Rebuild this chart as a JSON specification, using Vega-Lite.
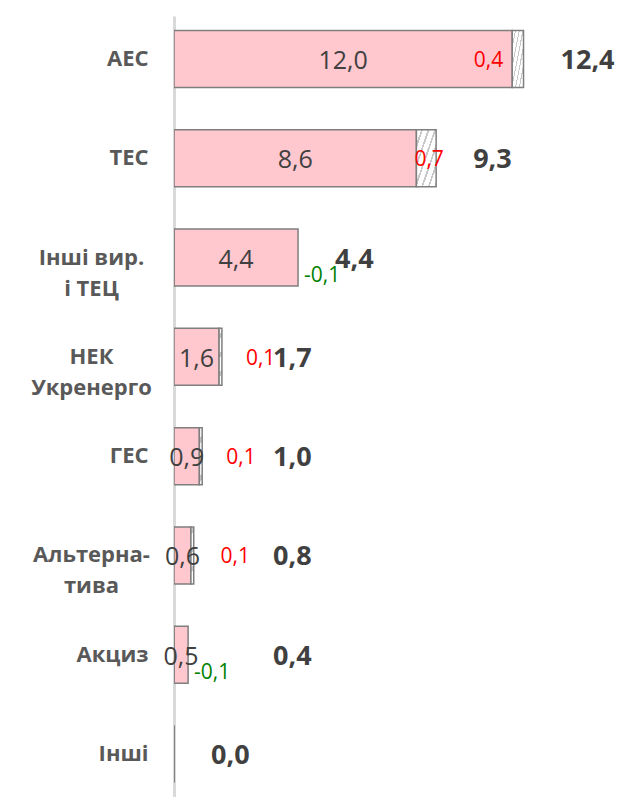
{
  "$schema": "https://vega.github.io/schema/vega-lite/v6.json",
  "width": 451,
  "height": 781,
  "autosize": {"type": "none"},
  "padding": {"left": 174, "top": 16, "right": 10, "bottom": 0},
  "background": "white",
  "config": {
    "view": {"stroke": null},
    "font": "Open Sans",
    "locale": {"number": {"decimal": ",", "thousands": " ", "grouping": [3], "currency": ["", ""], "minus": "-"}}
  },
  "data": {
    "values": [
      {"category": "АЕС", "base": 12.0, "change": 0.4, "total": 12.4},
      {"category": "ТЕС", "base": 8.6, "change": 0.7, "total": 9.3},
      {"category": "Інші вир.|і ТЕЦ", "base": 4.4, "change": -0.1, "total": 4.4},
      {"category": "НЕК|Укренерго", "base": 1.6, "change": 0.1, "total": 1.7},
      {"category": "ГЕС", "base": 0.9, "change": 0.1, "total": 1.0},
      {"category": "Альтерна-|тива", "base": 0.6, "change": 0.1, "total": 0.8},
      {"category": "Акциз", "base": 0.5, "change": -0.1, "total": 0.4},
      {"category": "Інші", "base": 0.0, "change": 0.0, "total": 0.0}
    ]
  },
  "encoding": {
    "y": {
      "field": "category",
      "type": "nominal",
      "sort": null,
      "scale": {"paddingInner": 0.426, "paddingOuter": 0.146},
      "axis": {
        "title": null,
        "ticks": false,
        "domainColor": "#D9D9D9",
        "domainWidth": 3,
        "labelExpr": "split(datum.label, '|')",
        "labelFont": "Open Sans",
        "labelFontWeight": "bold",
        "labelFontSize": 22,
        "labelColor": "#595959",
        "labelLineHeight": 31,
        "labelBaseline": "middle",
        "labelAlign": {"condition": {"test": "indexof(datum.value, '|') >= 0", "value": "center"}, "value": "right"},
        "labelPadding": {"condition": {"test": "indexof(datum.value, '|') >= 0", "value": 83}, "value": 26}
      }
    }
  },
  "layer": [
    {
      "transform": [{"fold": ["base", "change"], "as": ["key", "val"]}],
      "mark": {"type": "bar", "clip": true, "stroke": "#7F7F7F", "strokeWidth": 1.5},
      "encoding": {
        "x": {"field": "val", "type": "quantitative", "stack": "zero", "scale": {"domain": [0, 16]}, "axis": null},
        "detail": {"field": "key"},
        "order": {"field": "key"},
        "fill": {
          "condition": {
            "test": "datum.key === 'change'",
            "value": {
              "gradient": "linear", "x1": 0, "y1": 0, "x2": 1, "y2": 1,
              "stops": [
                {"offset": 0, "color": "#FFFFFF"}, {"offset": 0.12, "color": "#FFFFFF"}, {"offset": 0.12, "color": "#C8C8C8"}, {"offset": 0.1667, "color": "#C8C8C8"},
                {"offset": 0.1667, "color": "#FFFFFF"}, {"offset": 0.2867, "color": "#FFFFFF"}, {"offset": 0.2867, "color": "#C8C8C8"}, {"offset": 0.3333, "color": "#C8C8C8"},
                {"offset": 0.3333, "color": "#FFFFFF"}, {"offset": 0.4533, "color": "#FFFFFF"}, {"offset": 0.4533, "color": "#C8C8C8"}, {"offset": 0.5, "color": "#C8C8C8"},
                {"offset": 0.5, "color": "#FFFFFF"}, {"offset": 0.62, "color": "#FFFFFF"}, {"offset": 0.62, "color": "#C8C8C8"}, {"offset": 0.6667, "color": "#C8C8C8"},
                {"offset": 0.6667, "color": "#FFFFFF"}, {"offset": 0.7867, "color": "#FFFFFF"}, {"offset": 0.7867, "color": "#C8C8C8"}, {"offset": 0.8333, "color": "#C8C8C8"},
                {"offset": 0.8333, "color": "#FFFFFF"}, {"offset": 0.9533, "color": "#FFFFFF"}, {"offset": 0.9533, "color": "#C8C8C8"}, {"offset": 1, "color": "#C8C8C8"}
              ]
            }
          },
          "value": "#FFC7CE"
        }
      }
    },
    {
      "transform": [{"filter": "datum.base > 0"}, {"calculate": "datum.base / 2", "as": "mid"}],
      "mark": {"type": "text", "font": "Open Sans", "fontSize": 25, "color": "#404040", "align": "center", "baseline": "middle", "dy": 2},
      "encoding": {
        "x": {"field": "mid", "type": "quantitative", "scale": {"domain": [0, 16]}, "axis": null},
        "text": {"field": "base", "type": "quantitative", "format": ".1f"}
      }
    },
    {
      "transform": [{"filter": "datum.change > 0 && datum.base > 10"}],
      "mark": {"type": "text", "font": "Open Sans", "fontSize": 21, "color": "#FF0000", "align": "right", "baseline": "middle", "dx": -9, "dy": 2},
      "encoding": {
        "x": {"field": "base", "type": "quantitative", "scale": {"domain": [0, 16]}, "axis": null},
        "text": {"field": "change", "type": "quantitative", "format": ".1f"}
      }
    },
    {
      "transform": [{"filter": "datum.change > 0 && datum.base > 3 && datum.base <= 10"}],
      "mark": {"type": "text", "font": "Open Sans", "fontSize": 21, "color": "#FF0000", "align": "center", "baseline": "middle", "dx": -7, "dy": 2},
      "encoding": {
        "x": {"field": "total", "type": "quantitative", "scale": {"domain": [0, 16]}, "axis": null},
        "text": {"field": "change", "type": "quantitative", "format": ".1f"}
      }
    },
    {
      "transform": [{"filter": "datum.change > 0 && datum.base <= 3"}],
      "mark": {"type": "text", "font": "Open Sans", "fontSize": 21, "color": "#FF0000", "align": "left", "baseline": "middle", "dx": 24, "dy": 2},
      "encoding": {
        "x": {"field": "total", "type": "quantitative", "scale": {"domain": [0, 16]}, "axis": null},
        "text": {"field": "change", "type": "quantitative", "format": ".1f"}
      }
    },
    {
      "transform": [{"filter": "datum.change < 0"}],
      "mark": {"type": "text", "font": "Open Sans", "fontSize": 21, "color": "#008000", "align": "left", "baseline": "middle", "dx": 6, "dy": 18},
      "encoding": {
        "x": {"field": "base", "type": "quantitative", "scale": {"domain": [0, 16]}, "axis": null},
        "text": {"field": "change", "type": "quantitative", "format": ".1f"}
      }
    },
    {
      "transform": [{"calculate": "datum.total == 0 ? 0 : max(datum.total, 2.2)", "as": "tpos"}],
      "mark": {"type": "text", "font": "Open Sans", "fontWeight": "bold", "fontSize": 27, "color": "#404040", "align": "left", "baseline": "middle", "dx": 37, "dy": 2},
      "encoding": {
        "x": {"field": "tpos", "type": "quantitative", "scale": {"domain": [0, 16]}, "axis": null},
        "text": {"field": "total", "type": "quantitative", "format": ".1f"}
      }
    }
  ]
}
